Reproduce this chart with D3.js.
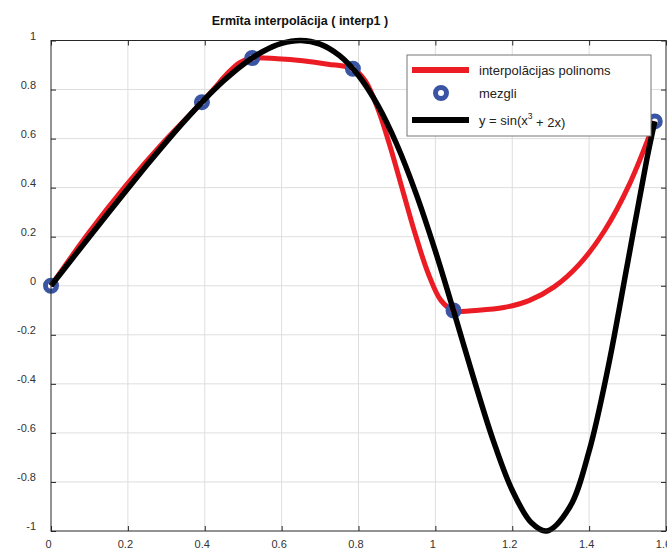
<!DOCTYPE html>
<html>
<head>
<meta charset="utf-8">
<script src="https://cdn.jsdelivr.net/npm/d3@7"></script>
<style>
body {margin: 0; background: #fff;}
text {font-family: Arial, 'Liberation Sans', sans-serif;}
</style>
</head>
<body>
<svg id="chart" width="667" height="550"></svg>
<script>
var title = 'Ermīta interpolācija ( interp1 )'

var xTicks = [0, 0.2, 0.4, 0.6, 0.8, 1, 1.2, 1.4, 1.6]
var yTicks = [-1, -0.8, -0.6, -0.4, -0.2, 0, 0.2, 0.4, 0.6, 0.8, 1]

// nodes (mezgli)
var nodeX = [0, 0.3927, 0.5236, 0.7854, 1.0472, 1.5708]
var nodeY = [0, 0.7486, 0.9287, 0.8849, -0.1010, 0.6700]

// interpolation polynomial
var redX = [0, 0.0982, 0.1963, 0.2945, 0.3927, 0.4254, 0.4581, 0.4909, 0.5236,
  0.5890, 0.6545, 0.7199, 0.7854, 0.8181, 0.8509, 0.8836, 0.9163, 0.9490,
  0.9817, 1.0145, 1.0472, 1.1126, 1.1781, 1.2435, 1.3090, 1.3744, 1.4399,
  1.5053, 1.5708]
var redY = [0, 0.2156, 0.4111, 0.5881, 0.7486, 0.8054, 0.8641, 0.9101, 0.9287,
  0.9257, 0.9173, 0.9035, 0.8849, 0.8345, 0.7191, 0.5607, 0.3815, 0.2036,
  0.0491, -0.0598, -0.1010, -0.0995, -0.0890, -0.0604, -0.0046, 0.0872, 0.2243,
  0.4155, 0.6700]

// y = sin(x^3 + 2x)
var blackX = [0, 0.05, 0.1, 0.15, 0.2, 0.25, 0.3, 0.35, 0.4, 0.45, 0.5, 0.55,
  0.6, 0.65, 0.7, 0.75, 0.8, 0.85, 0.9, 0.95, 1, 1.05, 1.1, 1.15, 1.2, 1.25,
  1.29, 1.35, 1.4, 1.45, 1.5, 1.55, 1.5708]
var blackY = [0, 0.0999, 0.1997, 0.2988, 0.3968, 0.4931, 0.5867, 0.6764, 0.7605,
  0.8367, 0.9023, 0.9540, 0.9880, 1.0000, 0.9852, 0.9390, 0.8571, 0.7362,
  0.5750, 0.3748, 0.1411, -0.1158, -0.3796, -0.6282, -0.8341, -0.9666,
  -0.9999, -0.9013, -0.6737, -0.3284, 0.0917, 0.5147, 0.6700]

var legendLabels = ['interpolācijas polinoms', 'mezgli', 'y = sin(x³ + 2x)']

var red = '#ec1c24', blue = '#3b55a5', black = '#000'

var svg = d3.select('#chart')
var L = 51, R = 666, T = 40.5, B = 531

var x = d3.scaleLinear().domain([0, 1.6]).range([L, R])
var y = d3.scaleLinear().domain([-1, 1]).range([B, T])

// grid
svg.append('g').selectAll('line').data(xTicks.slice(1, -1)).join('line')
  .attr('x1', d => x(d)).attr('x2', d => x(d)).attr('y1', T).attr('y2', B)
  .attr('stroke', '#dedede').attr('stroke-width', 1)
svg.append('g').selectAll('line').data(yTicks.slice(1, -1)).join('line')
  .attr('y1', d => y(d)).attr('y2', d => y(d)).attr('x1', L).attr('x2', R)
  .attr('stroke', '#dedede').attr('stroke-width', 1)

var fmt = d => String(d)

function styleAxis(g){
  g.select('.domain').remove()
  g.selectAll('.tick line').attr('stroke', '#262626')
  g.selectAll('.tick text').attr('fill', '#333').attr('font-size', 11)
}

svg.append('g').attr('transform', `translate(0,${B})`)
  .call(d3.axisBottom(x).tickValues(xTicks).tickFormat(fmt).tickSizeInner(-5).tickSizeOuter(0).tickPadding(9))
  .call(styleAxis)
  .selectAll('.tick text').attr('dx', -3)
svg.append('g').attr('transform', `translate(0,${T})`)
  .call(d3.axisTop(x).tickValues(xTicks).tickFormat('').tickSizeInner(-5).tickSizeOuter(0))
  .call(styleAxis)
svg.append('g').attr('transform', `translate(${L},0)`)
  .call(d3.axisLeft(y).tickValues(yTicks).tickFormat(fmt).tickSizeInner(-5).tickSizeOuter(0).tickPadding(15))
  .call(styleAxis)
  .selectAll('.tick text').attr('y', -5)
svg.append('g').attr('transform', `translate(${R},0)`)
  .call(d3.axisRight(y).tickValues(yTicks).tickFormat('').tickSizeInner(-5).tickSizeOuter(0))
  .call(styleAxis)

var line = d3.line().x(d => x(d[0])).y(d => y(d[1])).curve(d3.curveCatmullRom.alpha(0.5))

svg.append('path').datum(d3.zip(redX, redY))
  .attr('d', line).attr('fill', 'none').attr('stroke', red)
  .attr('stroke-width', 5).attr('stroke-linejoin', 'round')

svg.append('g').selectAll('circle').data(d3.zip(nodeX, nodeY)).join('circle')
  .attr('cx', d => x(d[0])).attr('cy', d => y(d[1])).attr('r', 5.5)
  .attr('fill', 'none').attr('stroke', blue).attr('stroke-width', 5)

svg.append('path').datum(d3.zip(blackX, blackY))
  .attr('d', line).attr('fill', 'none').attr('stroke', black)
  .attr('stroke-width', 5.5).attr('stroke-linejoin', 'round')

// axes box
svg.append('rect').attr('x', L).attr('y', T).attr('width', R - L).attr('height', B - T)
  .attr('fill', 'none').attr('stroke', '#262626').attr('stroke-width', 1)

svg.append('text').attr('x', 300).attr('y', 25).attr('text-anchor', 'middle')
  .attr('font-size', 12.5).attr('font-weight', 'bold').attr('fill', '#111')
  .text(title)

// legend
var lg = svg.append('g').attr('transform', 'translate(407,55)')
lg.append('rect').attr('width', 244).attr('height', 81)
  .attr('fill', '#fff').attr('stroke', '#777').attr('stroke-width', 1)

var rows = [15, 38, 65]
lg.append('line').attr('x1', 5).attr('x2', 62).attr('y1', rows[0]).attr('y2', rows[0])
  .attr('stroke', red).attr('stroke-width', 6)
lg.append('circle').attr('cx', 34).attr('cy', rows[1]).attr('r', 5.5)
  .attr('fill', 'none').attr('stroke', blue).attr('stroke-width', 5)
lg.append('line').attr('x1', 5).attr('x2', 62).attr('y1', rows[2]).attr('y2', rows[2])
  .attr('stroke', black).attr('stroke-width', 6)

lg.selectAll('text.lab').data(legendLabels).join('text').attr('class', 'lab')
  .attr('x', 72).attr('y', (d, i) => rows[i]).attr('dy', '0.35em')
  .attr('font-size', 13).attr('fill', '#222')
  .each(function(d, i){
    var t = d3.select(this)
    if (i < 2) return t.text(d)
    var parts = d.split('³')
    t.append('tspan').text(parts[0])
    t.append('tspan').attr('font-size', 8.5).attr('dy', '-0.6em').text('3')
    t.append('tspan').attr('dy', '0.6em').text(parts[1])
  })
</script>
</body>
</html>
